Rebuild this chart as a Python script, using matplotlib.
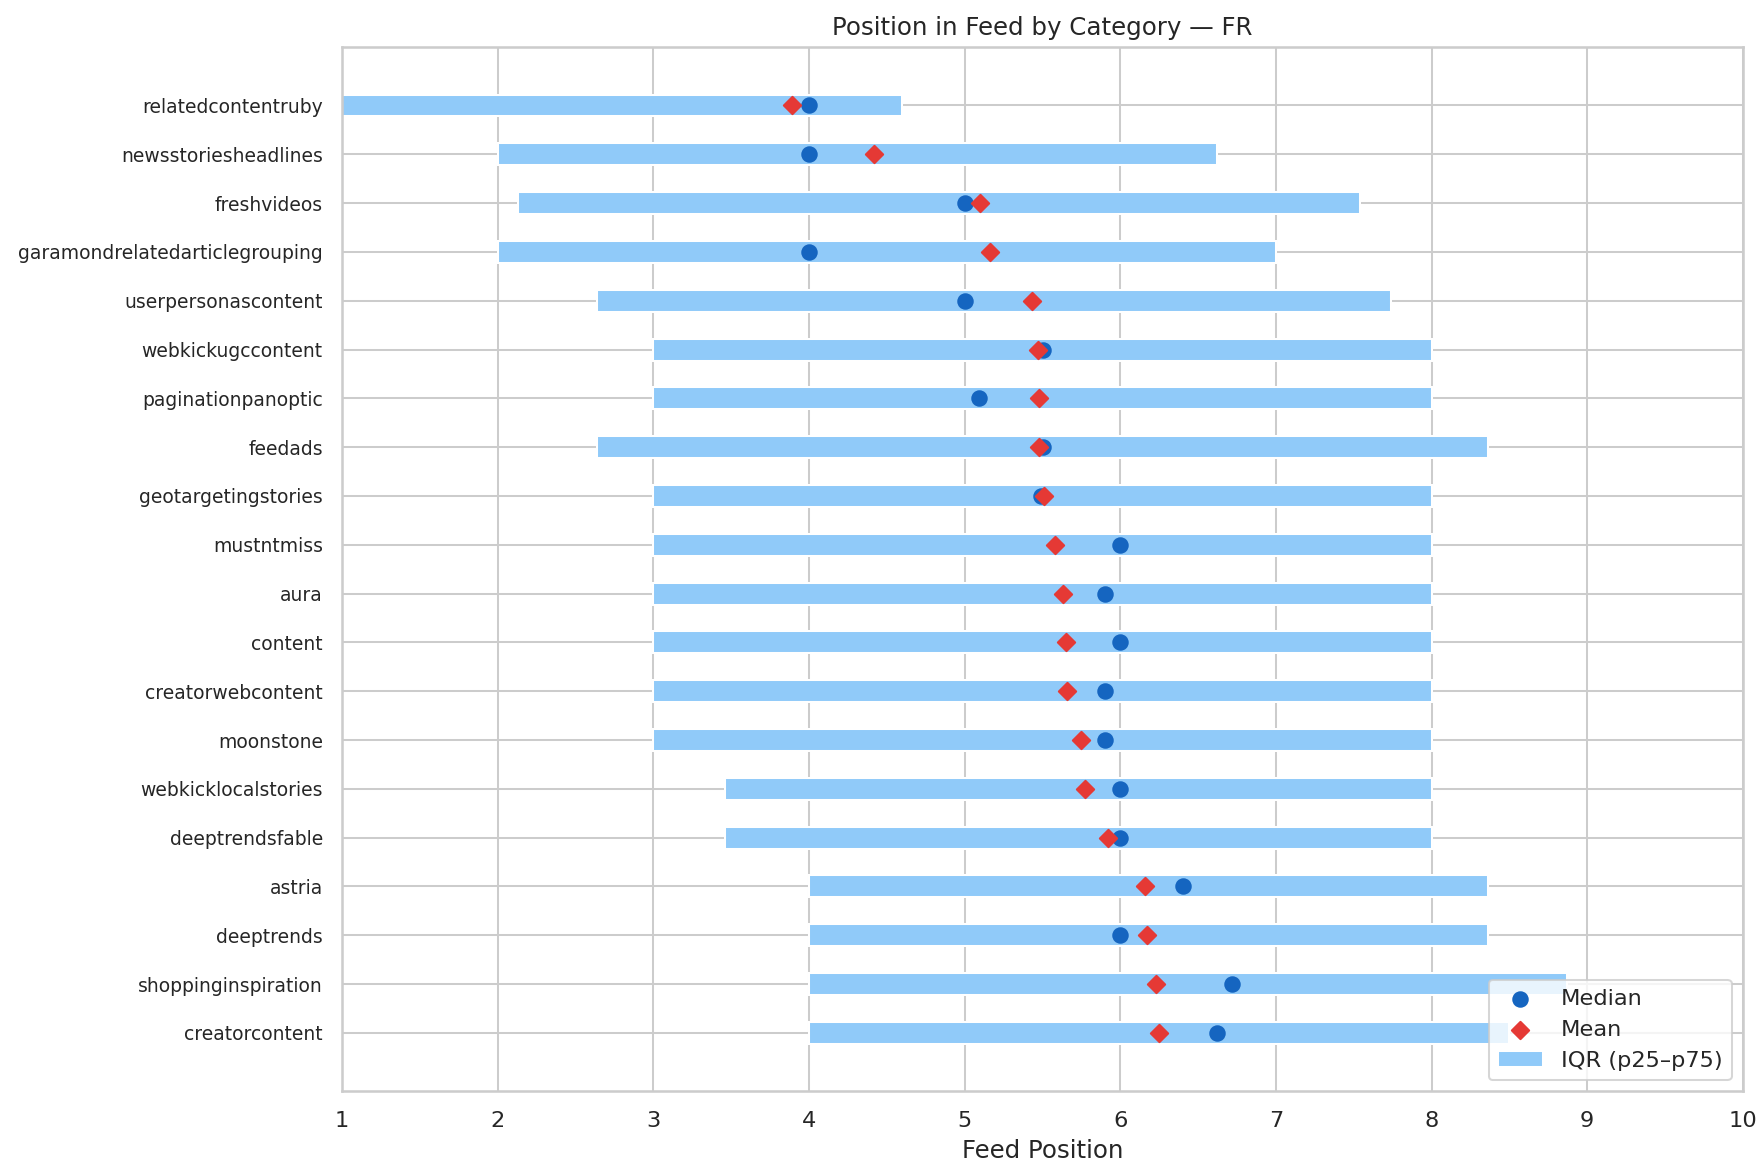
import numpy as np
import matplotlib
matplotlib.use("Agg")
import matplotlib.pyplot as plt
import seaborn as sns

# Category rows, top to bottom
categories = [
    "relatedcontentruby", "newsstoriesheadlines", "freshvideos",
    "garamondrelatedarticlegrouping", "userpersonascontent", "webkickugccontent",
    "paginationpanoptic", "feedads", "geotargetingstories", "mustntmiss",
    "aura", "content", "creatorwebcontent", "moonstone", "webkicklocalstories",
    "deeptrendsfable", "astria", "deeptrends", "shoppinginspiration",
    "creatorcontent",
]
p25 = [1.0, 2.0, 2.13, 2.0, 2.64, 3.0, 3.0, 2.64, 3.0, 3.0,
       3.0, 3.0, 3.0, 3.0, 3.46, 3.46, 4.0, 4.0, 4.0, 4.0]
p75 = [4.6, 6.62, 7.54, 7.0, 7.74, 8.0, 8.0, 8.36, 8.0, 8.0,
       8.0, 8.0, 8.0, 8.0, 8.0, 8.0, 8.36, 8.36, 8.87, 8.5]
medians = [4.0, 4.0, 5.0, 4.0, 5.0, 5.5, 5.09, 5.5, 5.49, 6.0,
           5.9, 6.0, 5.9, 5.9, 6.0, 6.0, 6.4, 6.0, 6.72, 6.62]
means = [3.89, 4.42, 5.1, 5.16, 5.43, 5.47, 5.48, 5.48, 5.51, 5.58,
         5.63, 5.65, 5.66, 5.75, 5.77, 5.92, 6.16, 6.17, 6.23, 6.25]

sns.set_theme(style="whitegrid")

fig, ax = plt.subplots(figsize=(12, 8), dpi=147)
y = np.arange(len(categories))
widths = np.array(p75) - np.array(p25)

ax.barh(y, widths, left=p25, height=0.45, color="#90CAF9", label="IQR (p25\u2013p75)", zorder=2)
ax.scatter(medians, y, s=50, color="#1565C0", marker="o", label="Median", zorder=3)
ax.scatter(means, y, s=36, color="#E53935", marker="D", label="Mean", zorder=4)

ax.set_yticks(y)
ax.set_yticklabels(categories, fontsize=9.2)
ax.invert_yaxis()
ax.set_xlim(1, 10)
ax.tick_params(axis="x", labelsize=11)
ax.set_xlabel("Feed Position", fontsize=12)
ax.set_title("Position in Feed by Category \u2014 FR", fontsize=12)

handles, labels = ax.get_legend_handles_labels()
order = [labels.index("Median"), labels.index("Mean"), labels.index("IQR (p25\u2013p75)")]
ax.legend([handles[i] for i in order], [labels[i] for i in order], loc="lower right", fontsize=11)

fig.subplots_adjust(left=0.194, right=0.988, top=0.96, bottom=0.072)
plt.savefig("out.png", dpi=147)
